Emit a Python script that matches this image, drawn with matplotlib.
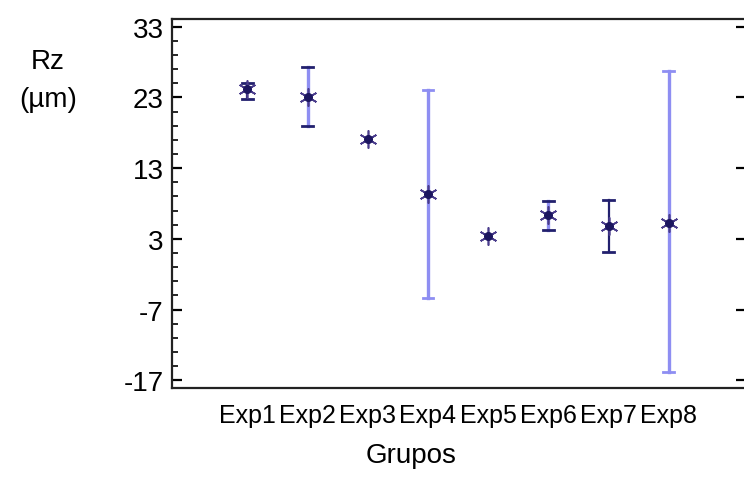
import numpy as np
import matplotlib.pyplot as plt
from matplotlib.ticker import FixedLocator

plt.rcParams['font.family'] = ['Liberation Sans', 'DejaVu Sans']
plt.rcParams['axes.unicode_minus'] = False

groups = ['Exp1', 'Exp2', 'Exp3', 'Exp4', 'Exp5', 'Exp6', 'Exp7', 'Exp8']
rz_mean = [24.2, 23.0, 17.1, 9.3, 3.4, 6.4, 4.8, 5.2]
rz_low = [22.8, 18.9, 17.1, -5.3, 3.2, 4.3, 1.2, -15.8]
rz_high = [25.1, 27.3, 17.1, 24.0, 3.6, 8.3, 8.5, 26.7]

navy = '#22206e'
light = '#8e8ef2'
bar_colors = [navy, light, navy, light, navy, light, navy, light]
cap_colors = [navy, navy, navy, light, navy, navy, navy, light]

fig = plt.figure(figsize=(7.44, 4.89), dpi=100)
ax = fig.add_axes([172 / 744, 1 - 389 / 489, (746 - 172) / 744, (389 - 20) / 489])

x = np.arange(len(groups))
for i in x:
    if rz_high[i] - rz_low[i] < 1:
        continue
    lw = 2.4 if bar_colors[i] == light else 1.6
    ax.plot([x[i], x[i]], [rz_low[i], rz_high[i]], color=bar_colors[i], lw=lw, zorder=2)
    for yv in (rz_low[i], rz_high[i]):
        ax.plot([x[i] - 0.09, x[i] + 0.09], [yv, yv], color=cap_colors[i], lw=2.0, zorder=3)

ax.plot(x, rz_mean, linestyle='none', marker=(6, 2, 0), markersize=13,
        markeredgewidth=1.2, color='#4a3c8c', zorder=4)
ax.plot(x, rz_mean, linestyle='none', marker='o', markersize=5.5,
        color='#1c1660', zorder=5)

ax.set_xlim(-1.25, 8.28)
ax.set_ylim(-18.1, 34.1)
ax.set_xticks(x)
ax.set_xticklabels(groups, fontsize=18)
ax.tick_params(axis='x', length=0, pad=11)
ax.yaxis.set_major_locator(FixedLocator([-17, -7, 3, 13, 23, 33]))
ax.yaxis.set_minor_locator(FixedLocator(np.arange(-17, 34, 2)))
ax.tick_params(axis='y', which='major', direction='in', length=7, width=1.6,
               labelsize=20, pad=6, right=True)
ax.tick_params(axis='y', which='minor', direction='in', length=4, width=1.2)
ax.yaxis.set_tick_params(which='minor', right=False)
for s in ax.spines.values():
    s.set_linewidth(1.6)
    s.set_color('#222222')

fig.text(48 / 744, 1 - 62 / 489, 'Rz', fontsize=20, ha='center', va='center')
fig.text(48 / 744, 1 - 100 / 489, '(µm)', fontsize=20, ha='center', va='center')
fig.text(411 / 744, 1 - 456 / 489, 'Grupos', fontsize=20, ha='center', va='center')

fig.savefig('out.png', dpi=100)
